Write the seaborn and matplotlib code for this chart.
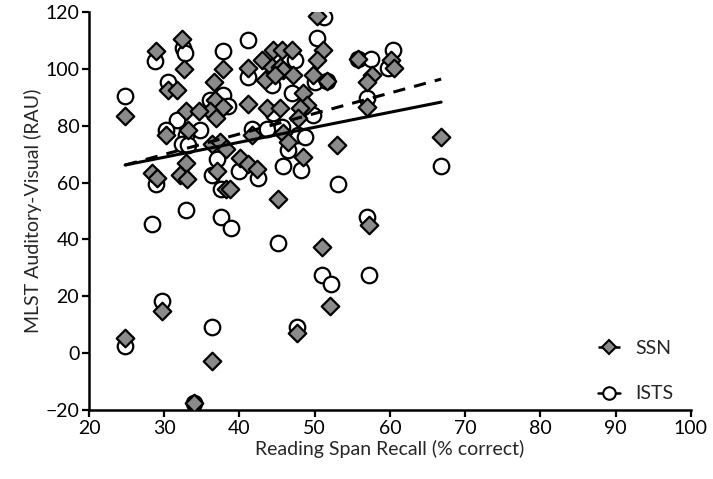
import matplotlib

matplotlib.use("Agg")
import matplotlib.pyplot as plt
import numpy as np
import pandas as pd
import seaborn as sns
from matplotlib.lines import Line2D

# SSN (diamonds)
ssn_x = [24.8, 24.8, 28.9, 32.4, 32.6, 37.8, 30.5, 31.7, 36.6, 41.1, 43.0, 36.7, 37.8, 36.1,
         36.9, 32.9, 34.6, 41.1, 43.6, 30.2, 33.2, 41.7, 36.3, 37.4, 38.2, 32.9, 40.1, 41.1,
         42.3, 28.4, 29.0, 32.1, 33.0, 37.0, 38.2, 38.8, 29.7, 36.3, 34.0, 47.6, 45.1, 57.2,
         51.0, 52.0, 50.3, 51.1, 50.3, 44.5, 45.6, 47.0, 44.3, 45.4, 45.8, 43.4, 47.1, 44.7,
         49.8, 51.6, 55.7, 60.1, 60.5, 57.6, 56.9, 56.9, 48.4, 49.0, 48.0, 47.8, 45.4, 45.8,
         46.4, 48.4, 53.0, 66.8]
ssn_y = [83.5, 5.3, 106.2, 110.4, 99.8, 99.8, 92.7, 92.7, 95.2, 100.2, 103.0, 89.1, 86.7, 85.0,
         82.8, 85.2, 85.2, 87.5, 86.2, 76.7, 78.5, 76.7, 73.5, 74.3, 71.8, 66.8, 68.6, 66.5,
         64.7, 63.5, 61.5, 62.6, 61.1, 64.0, 57.8, 57.8, 15.0, -2.8, -17.6, 7.1, 54.2, 45.0,
         37.3, 16.6, 118.6, 106.6, 103.1, 106.6, 106.6, 106.6, 100.6, 100.6, 99.6, 96.1, 97.8, 97.8,
         97.8, 95.7, 103.5, 103.1, 100.3, 97.8, 95.4, 86.6, 91.5, 87.3, 86.2, 82.7, 86.2, 77.4,
         74.3, 69.0, 73.2, 76.0]

# ISTS (open circles)
ists_x = [24.8, 24.8, 28.8, 32.5, 32.8, 41.1, 37.8, 30.5, 41.1, 36.1, 37.8, 38.5, 31.7, 30.2,
          34.8, 32.9, 32.4, 33.2, 41.7, 43.6, 37.0, 28.9, 36.3, 39.9, 42.5, 37.6, 32.9, 28.4,
          37.5, 38.9, 29.7, 36.3, 34.0, 47.6, 45.8, 48.2, 53.1, 66.8, 56.9, 45.1, 51.0, 52.2,
          57.2, 51.2, 50.3, 47.4, 44.3, 50.0, 51.6, 55.7, 57.5, 60.4, 59.8, 56.9, 47.0, 49.8,
          44.5, 45.6, 47.8, 48.7, 46.4]
ists_y = [90.6, 2.5, 102.6, 107.2, 105.6, 110.0, 106.2, 95.5, 97.3, 89.1, 90.9, 87.0, 82.0, 78.5,
          78.5, 76.7, 73.5, 73.2, 78.9, 78.9, 68.2, 59.5, 62.6, 64.0, 61.5, 57.8, 50.5, 45.5,
          48.0, 44.1, 18.5, 9.2, -17.6, 9.2, 65.8, 64.4, 59.5, 65.8, 47.9, 38.7, 27.5, 24.3,
          27.5, 118.2, 110.8, 103.1, 94.3, 95.4, 95.7, 103.5, 103.5, 106.6, 100.3, 89.8, 91.5, 83.8,
          84.5, 79.5, 76.7, 76.0, 71.5]

# fitted lines (slope, intercept)
ssn_fit = (0.72, 48.3)
ists_fit = (0.527, 53.1)

x_ticks = [20, 30, 40, 50, 60, 70, 80, 90, 100]
y_ticks = [-20, 0, 20, 40, 60, 80, 100, 120]

sns.set_style("ticks")
plt.rcParams["font.family"] = ["Lato", "DejaVu Sans"]

ssn = pd.DataFrame({"x": ssn_x, "y": ssn_y})
ists = pd.DataFrame({"x": ists_x, "y": ists_y})

fig = plt.figure(figsize=(7.13, 4.79), dpi=100)
ax = fig.add_axes([0.1248, 0.144, 0.8443, 0.831])

sns.scatterplot(data=ists, x="x", y="y", ax=ax, marker="o", s=125,
                facecolor="white", edgecolor="black", linewidth=1.6, zorder=3)
sns.scatterplot(data=ssn, x="x", y="y", ax=ax, marker="D", s=80,
                facecolor="#8a8a8a", edgecolor="black", linewidth=1.6, zorder=3)

for df, (m, b), ls in [(ssn, ssn_fit, (0, (4, 3))), (ists, ists_fit, "-")]:
    xs = np.array([df["x"].min(), df["x"].max()])
    ax.plot(xs, m * xs + b, color="black", linestyle=ls, linewidth=2.2, zorder=4)

ax.set_xlim(20, 100)
ax.set_ylim(-20, 120)
ax.set_xticks(x_ticks)
ax.set_yticks(y_ticks)
ax.set_xlabel("Reading Span Recall (% correct)", fontsize=14, labelpad=2)
ax.set_ylabel("MLST Auditory-Visual (RAU)", fontsize=14, labelpad=2)
ax.tick_params(axis="both", labelsize=14, width=1.6, length=5, direction="out",
               colors="black", pad=2)
for side in ["left", "bottom"]:
    ax.spines[side].set_linewidth(1.8)
    ax.spines[side].set_color("black")
sns.despine(ax=ax)

handles = [
    Line2D([0], [0], color="black", linestyle=(0, (2, 1.5)), linewidth=1.8, marker="D",
           markersize=7, markerfacecolor="#8a8a8a", markeredgecolor="black", markeredgewidth=1.5),
    Line2D([0], [0], color="black", linestyle="-", linewidth=1.8, marker="o",
           markersize=9, markerfacecolor="white", markeredgecolor="black", markeredgewidth=1.5),
]
ax.legend(handles, ["SSN", "ISTS"], loc="lower right", bbox_to_anchor=(1.0, -0.025),
          frameon=False, fontsize=14, handlelength=1.1, handletextpad=0.8,
          labelspacing=1.45)

fig.savefig("out.png", dpi=100)
plt.close(fig)
